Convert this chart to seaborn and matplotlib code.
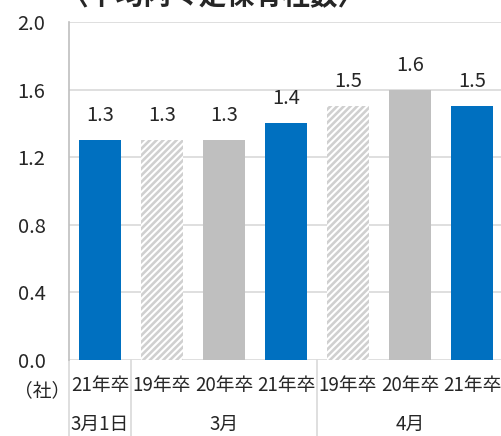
import matplotlib
matplotlib.use("Agg")
import matplotlib.pyplot as plt
import seaborn as sns
import pandas as pd

# データ
years = ["21年卒", "19年卒", "20年卒", "21年卒", "19年卒", "20年卒", "21年卒"]
values = [1.3, 1.3, 1.3, 1.4, 1.5, 1.6, 1.5]
groups = ["3月1日", "3月", "4月"]
group_sizes = [1, 3, 3]
kinds = ["blue", "hatch", "grey", "blue", "hatch", "grey", "blue"]
yticks = [0.0, 0.4, 0.8, 1.2, 1.6, 2.0]

colors = {"blue": "#0070C0", "grey": "#BFBFBF", "hatch": "#D0D0D0"}

sns.set_style("white")
plt.rcParams["font.family"] = ["Noto Sans CJK JP", "DejaVu Sans"]
plt.rcParams["hatch.color"] = "white"
plt.rcParams["hatch.linewidth"] = 1.5

df = pd.DataFrame({"key": [f"{i}" for i in range(len(values))], "value": values})

fig = plt.figure(figsize=(5.01, 4.36), dpi=100)
ax = fig.add_axes([69 / 501, 1 - 360 / 436, 434 / 501, 338 / 436])

sns.barplot(data=df, x="key", y="value", hue="key", legend=False,
            palette=[colors[k] for k in kinds], width=0.68, ax=ax, saturation=1)

for p, k in zip(ax.patches, kinds):
    p.set_linewidth(0)
    if k == "hatch":
        p.set_hatch("/////")
        p.set_edgecolor("white")

# 数値ラベル
for i, v in enumerate(values):
    ax.text(i, v + 0.145, f"{v:.1f}", ha="center", va="center", fontsize=14.5)

ax.set_ylim(0, 2.0)
ax.set_xlim(-0.5, len(values) - 0.5)
ax.set_yticks(yticks)
ax.set_yticklabels([f"{t:.1f}" for t in yticks], fontsize=14.5)
ax.tick_params(axis="y", length=0, pad=17)
ax.set_xticks([])
ax.set_xlabel("")
ax.set_ylabel("")
ax.yaxis.grid(True, color="#D9D9D9", linewidth=1.2)
ax.set_axisbelow(True)
for s in ["top", "right", "bottom"]:
    ax.spines[s].set_visible(False)
ax.spines["left"].set_color("#BFBFBF")
ax.spines["left"].set_linewidth(1.2)

# カテゴリラベル
trans = ax.get_xaxis_transform()
for i, y in enumerate(years):
    ax.text(i, -0.075, y, ha="center", va="center", fontsize=13.5, transform=trans)
start = -0.5
for g, n in zip(groups, group_sizes):
    ax.text(start + n / 2, -0.19, g, ha="center", va="center", fontsize=13.5, transform=trans)
    ax.plot([start, start], [0, -0.25], color="#D9D9D9", lw=1.2, transform=trans, clip_on=False)
    start += n
ax.text(-0.48, -0.09, "（社）", ha="right", va="center", fontsize=13.5, transform=trans)

fig.text(0.12, 1.0 + 3 / 436, "〈平均内々定保有社数〉", ha="left", va="center",
         fontsize=20, fontweight="bold")

fig.savefig("out.png", dpi=100)
